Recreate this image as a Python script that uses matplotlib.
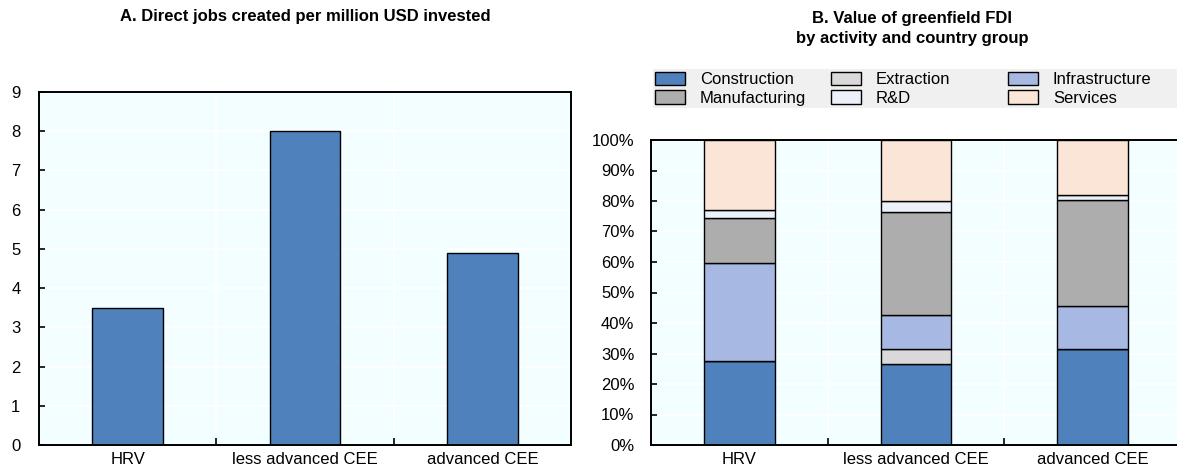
import numpy as np
import matplotlib
matplotlib.use("Agg")
import matplotlib.pyplot as plt
from matplotlib.patches import Rectangle
from matplotlib.ticker import MultipleLocator, FixedLocator, PercentFormatter

plt.rcParams["font.family"] = ["Liberation Sans Narrow", "Liberation Sans", "DejaVu Sans"]

# ── Data ─────────────────────────────────────────────────────────
groups = ["HRV", "less advanced CEE", "advanced CEE"]
jobs_per_musd = [3.5, 8.0, 4.9]

activities = ["Construction", "Extraction", "Infrastructure",
              "Manufacturing", "R&D", "Services"]
construction   = [27.7, 26.5, 31.5]
extraction     = [0.0, 4.9, 0.0]
infrastructure = [32.0, 11.3, 14.2]
manufacturing  = [14.7, 33.6, 34.5]
rnd            = [2.7, 3.6, 1.8]
services       = [22.9, 20.1, 18.0]
shares = [construction, extraction, infrastructure, manufacturing, rnd, services]

# ── Style ────────────────────────────────────────────────────────
BG      = "#F2FEFF"
COLORS  = ["#4F81BD", "#D9D9D9", "#A7B9E3", "#ADADAD", "#EDF0F8", "#FBE5D6"]
FS      = 12
W, H    = 1177, 475


def style_axes(ax):
    ax.set_facecolor(BG)
    for sp in ax.spines.values():
        sp.set_linewidth(1.4)
        sp.set_color("black")
    ax.set_xlim(-0.5, len(groups) - 0.5)
    ax.set_xticks(range(len(groups)))
    ax.set_xticklabels(groups, fontsize=FS)
    ax.xaxis.set_minor_locator(FixedLocator([0.5, 1.5]))
    ax.tick_params(axis="x", which="major", length=0, pad=5)
    ax.tick_params(axis="x", which="minor", direction="in", length=5, width=1.2)
    ax.tick_params(axis="y", direction="in", length=4, width=1.2, labelsize=FS)
    ax.grid(axis="y", which="major", color="white", lw=1.2)
    ax.grid(axis="x", which="minor", color="white", lw=1.2)
    ax.set_axisbelow(True)


fig = plt.figure(figsize=(W / 100, H / 100), dpi=100)

# ── Panel A ──────────────────────────────────────────────────────
ax1 = fig.add_axes([39 / W, 30 / H, 532 / W, 353 / H])
style_axes(ax1)
x = np.arange(len(groups))
ax1.bar(x, jobs_per_musd, width=0.4, color=COLORS[0], edgecolor="black", lw=1)
ax1.set_ylim(0, 9)
ax1.yaxis.set_major_locator(MultipleLocator(1))
ax1.tick_params(axis="y", pad=20)
for lab in ax1.get_yticklabels():
    lab.set_horizontalalignment("left")
fig.text(305 / W, 1 - 17 / H, "A. Direct jobs created per million USD invested",
         ha="center", va="center", fontsize=FS, fontweight="bold")

# ── Panel B ──────────────────────────────────────────────────────
ax2 = fig.add_axes([651 / W, 30 / H, 530 / W, 305 / H])
style_axes(ax2)
bottom = np.zeros(len(groups))
handles = []
for name, vals, col in zip(activities, shares, COLORS):
    h = ax2.bar(x, vals, width=0.4, bottom=bottom, color=col,
                edgecolor="black", lw=1, label=name)
    handles.append(h)
    bottom += np.array(vals)
ax2.set_ylim(0, 100)
ax2.yaxis.set_major_locator(MultipleLocator(10))
ax2.yaxis.set_major_formatter(PercentFormatter(decimals=0))
ax2.tick_params(axis="y", pad=12)
fig.text(912 / W, 1 - 28.5 / H, "B. Value of greenfield FDI\nby activity and country group",
         ha="center", va="center", fontsize=FS, fontweight="bold", linespacing=1.45)

# ── Legend: grey band with three fixed columns ───────────────────
fig.patches.append(Rectangle((653 / W, 1 - 108 / H), (W - 653) / W, 39 / H,
                             transform=fig.transFigure, facecolor="#F0F0F0",
                             edgecolor="none", zorder=0))
col_x = [655, 831, 1008]
for c, (i, j) in enumerate([(0, 3), (1, 4), (2, 5)]):
    fig.legend([handles[i], handles[j]], [activities[i], activities[j]],
               loc="upper left", bbox_to_anchor=(col_x[c] / W, 1 - 72 / H),
               frameon=False, fontsize=FS, handlelength=1.8,
               handleheight=0.85, handletextpad=0.9, labelspacing=0.18,
               borderpad=0, borderaxespad=0)

fig.savefig("out.png", dpi=100)
